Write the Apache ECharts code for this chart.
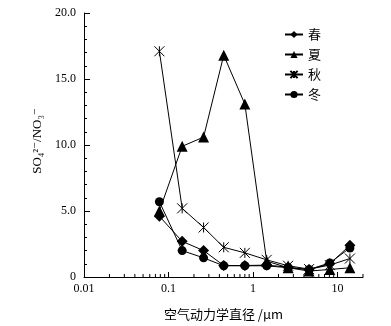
<!DOCTYPE html>
<html><head><meta charset="utf-8">
<script src="https://cdn.jsdelivr.net/npm/echarts@6/dist/echarts.min.js"></script>
<style>html,body{margin:0;padding:0;background:#fff}#c{width:391px;height:326px}</style>
</head><body><div id="c"></div>
<script>
const sizes = [0.078, 0.145, 0.26, 0.45, 0.8, 1.45, 2.6, 4.6, 8.1, 14];
const spring = [4.6, 2.7, 2.0, 0.87, 0.87, 0.9, 0.75, 0.55, 1.0, 2.4];
const summer = [5.0, 9.9, 10.6, 16.8, 13.1, 1.2, 0.7, 0.45, 0.57, 0.7];
const autumn = [17.1, 5.2, 3.75, 2.25, 1.83, 1.3, 0.85, 0.6, 0.9, 1.4];
const winter = [5.7, 2.0, 1.45, 0.85, 0.85, 0.85, 0.7, 0.57, 1.07, 2.2];
const names = ['春', '夏', '秋', '冬'];
const yTicks = [0, 5, 10, 15, 20];
const xMinorTicks = [];
[0.01, 0.1, 1, 10].forEach(d => { for (let k = 2; k <= 9; k++) { const v = +(d * k).toPrecision(3); if (v <= 20) xMinorTicks.push(v); } });

const serif = '"Liberation Serif","DejaVu Serif",serif';
const mk = (name, vals, symbol, size, extra) => Object.assign({
  name, type: 'line', data: sizes.map((s, i) => [s, vals[i]]),
  symbol, symbolSize: size, showSymbol: true,
  lineStyle: { color: '#000', width: 1 },
  itemStyle: { color: '#000' }, z: 3
}, extra || {});

const chart = echarts.init(document.getElementById('c'), null, { renderer: 'canvas' });
chart.setOption({
  animation: false,
  backgroundColor: '#fff',
  grid: { left: 84, right: 28, top: 13, bottom: 47, containLabel: false },
  legend: {
    orient: 'vertical', left: 279, top: 23, itemWidth: 18, itemHeight: 9, itemGap: 7,
    textStyle: { fontFamily: '"Noto Sans CJK SC",serif', fontSize: 13, color: '#000' },
    data: names
  },
  xAxis: {
    type: 'log', logBase: 10, min: 0.01, max: 20,
    name: '空气动力学直径 /μm', nameLocation: 'middle', nameGap: 31,
    nameTextStyle: { fontFamily: '"Noto Sans CJK SC",' + serif, fontSize: 13, color: '#000' },
    axisLine: { lineStyle: { color: '#000', width: 1 } },
    axisTick: { inside: true, length: 5, lineStyle: { color: '#000' } },
    axisLabel: { color: '#000', fontFamily: serif, fontSize: 12, margin: 6, showMaxLabel: false,
      formatter: v => (v >= 1 ? String(Math.round(v)) : String(+v.toPrecision(2))) },
    splitLine: { show: false }
  },
  yAxis: {
    type: 'value', min: yTicks[0], max: yTicks[yTicks.length - 1], interval: 5,
    name: 'SO₄²⁻/NO₃⁻', nameLocation: 'middle', nameGap: 38, nameRotate: 90,
    nameTextStyle: { fontFamily: serif, fontSize: 13, color: '#000', padding: [0, 0, 0, 8] },
    axisLine: { show: true, lineStyle: { color: '#000', width: 1 } },
    axisTick: { show: true, inside: true, length: 6, lineStyle: { color: '#000' } },
    minorTick: { show: true, splitNumber: 5, length: 3, lineStyle: { color: '#000' } },
    axisLabel: { color: '#000', fontFamily: serif, fontSize: 12, margin: 8,
      formatter: v => (v === 0 ? '0' : v.toFixed(1)) },
    splitLine: { show: false }
  },
  series: [
    mk('春', spring, 'diamond', 11),
    mk('夏', summer, 'triangle', 11),
    mk('秋', autumn, 'path://M0,0L10,10M10,0L0,10M5,0L5,10', 10,
      { itemStyle: { color: 'none', borderColor: '#000', borderWidth: 1 } }),
    mk('冬', winter, 'circle', 9),
    {
      type: 'custom', silent: true, data: xMinorTicks.map(v => [v]), z: 2,
      renderItem: (params, api) => {
        const p = api.coord([api.value(0), 0]);
        return { type: 'line', shape: { x1: p[0], y1: p[1], x2: p[0], y2: p[1] - 3 },
          style: { stroke: '#000', lineWidth: 1 } };
      },
      encode: { x: 0 }
    }
  ]
});
</script></body></html>
